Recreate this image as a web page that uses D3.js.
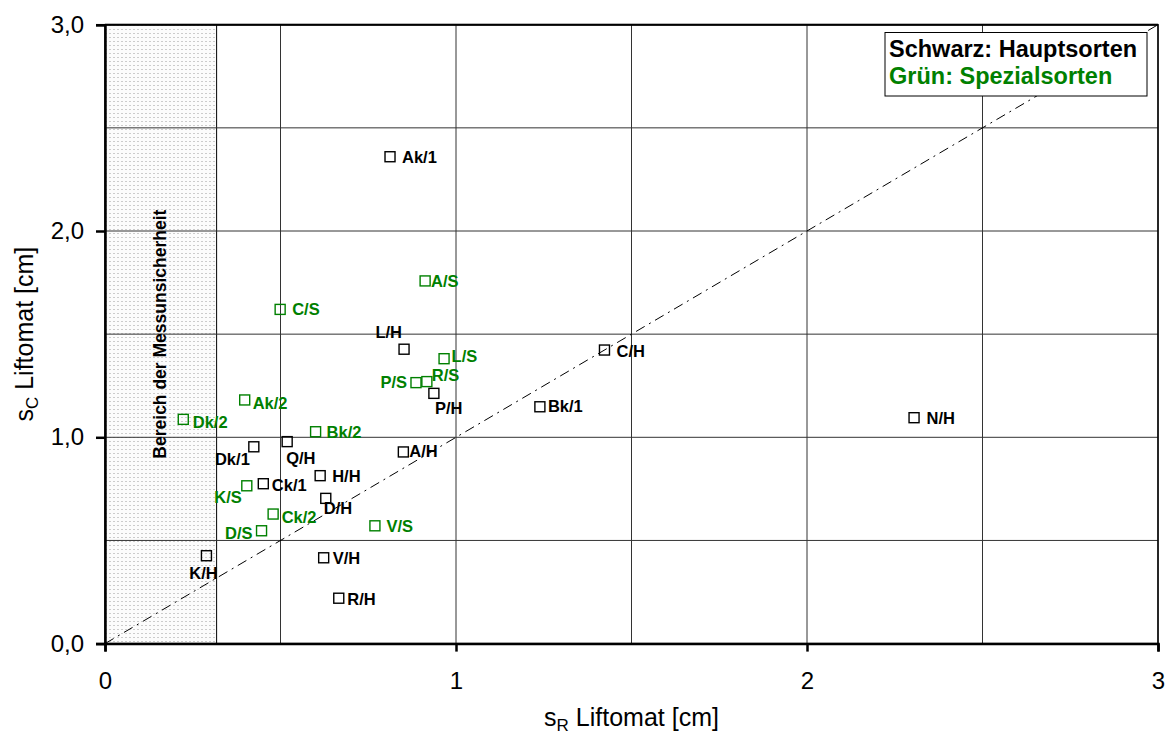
<!DOCTYPE html>
<html>
<head>
<meta charset="utf-8">
<script src="https://cdn.jsdelivr.net/npm/d3@7"></script>
<style>
  body { margin: 0; background: #fff; }
  svg { display: block; font-family: "Liberation Sans", Arial, sans-serif; }
</style>
</head>
<body>
<svg id="chart" width="1168" height="738"></svg>
<script>
// DATA
// Hauptsorten (schwarz)
var hauptNames = ['Ak/1', 'L/H', 'C/H', 'P/H', 'Bk/1', 'N/H', 'Dk/1', 'Q/H', 'A/H', 'H/H', 'Ck/1', 'D/H', 'K/H', 'V/H', 'R/H'];
var hauptX     = [0.812, 0.852, 1.423, 0.937, 1.239, 2.305, 0.424, 0.519, 0.850, 0.613, 0.451, 0.629, 0.289, 0.623, 0.666];
var hauptY     = [2.360, 1.427, 1.423, 1.213, 1.148, 1.095, 0.954, 0.979, 0.929, 0.814, 0.775, 0.704, 0.426, 0.416, 0.220];

// Spezialsorten (gruen)
var spezNames = ['A/S', 'C/S', 'L/S', 'P/S', 'R/S', 'Ak/2', 'Dk/2', 'Bk/2', 'K/S', 'Ck/2', 'D/S', 'V/S'];
var spezX     = [0.912, 0.499, 0.966, 0.886, 0.917, 0.398, 0.223, 0.600, 0.404, 0.479, 0.446, 0.769];
var spezY     = [1.758, 1.620, 1.381, 1.265, 1.270, 1.181, 1.087, 1.027, 0.765, 0.628, 0.547, 0.571];

// Bereich der Messunsicherheit (s_R)
var messGrenze = 0.318;

var xTicks = [0, 1, 2, 3];
var yTicks = [0, 1, 2, 3];
var gridSteps = [0.5, 1, 1.5, 2, 2.5, 3];

// Label placement [dx, dy, anchor]
var labelPos = {
    'Ak/1': [12, 6, 'start'],  'L/H': [-2, -11, 'end'],  'C/H': [12, 6.5, 'start'],
    'P/H': [1, 21, 'start'],   'Bk/1': [8, 5, 'start'],  'N/H': [12.5, 6, 'start'],
    'Dk/1': [-4, 18, 'end'],   'Q/H': [-1, 22.5, 'start'], 'A/H': [6, 5, 'start'],
    'H/H': [12, 6, 'start'],   'Ck/1': [8.5, 7, 'start'], 'D/H': [-2, 16, 'start'],
    'K/H': [-3, 23, 'middle'], 'V/H': [9, 6.5, 'start'], 'R/H': [8.5, 7, 'start'],
    'A/S': [6, 6, 'start'],    'C/S': [12, 6, 'start'],  'L/S': [7.5, 3.5, 'start'],
    'P/S': [-9, 5, 'end'],     'R/S': [5, -1, 'start'],  'Ak/2': [8, 9, 'start'],
    'Dk/2': [9.5, 9, 'start'], 'Bk/2': [11, 6, 'start'], 'K/S': [-5, 17, 'end'],
    'Ck/2': [8.5, 8.5, 'start'], 'D/S': [-9, 8.5, 'end'], 'V/S': [11.5, 6, 'start']
};

var GREEN = '#008000';

// LAYOUT
var plotLeft = 105, plotRight = 1158, plotTop = 24.7, plotBottom = 643.6;
var svg = d3.select('#chart');

var x = d3.scaleLinear().domain([0, 3]).range([plotLeft, plotRight]);
var y = d3.scaleLinear().domain([0, 3]).range([plotBottom, plotTop]);

// Dotted pattern for measurement region
var defs = svg.append('defs');
var pat = defs.append('pattern')
    .attr('id', 'dots')
    .attr('patternUnits', 'userSpaceOnUse')
    .attr('width', 4)
    .attr('height', 4);
pat.append('rect').attr('width', 4).attr('height', 4).attr('fill', '#fcfcfc');
pat.append('rect').attr('x', 1).attr('y', 1).attr('width', 2).attr('height', 1).attr('fill', '#cccccc');

// Measurement uncertainty region
svg.append('rect')
    .attr('x', x(0))
    .attr('y', y(3))
    .attr('width', x(messGrenze) - x(0))
    .attr('height', y(0) - y(3))
    .attr('fill', 'url(#dots)');
svg.append('line')
    .attr('x1', x(messGrenze)).attr('x2', x(messGrenze))
    .attr('y1', y(3)).attr('y2', y(0))
    .style('stroke', '#000')
    .style('stroke-width', '1px');

// Gridlines
svg.append('g').selectAll('line.vgrid')
    .data(gridSteps)
    .enter()
    .append('line')
    .attr('x1', function(d) { return x(d); })
    .attr('x2', function(d) { return x(d); })
    .attr('y1', y(0))
    .attr('y2', y(3))
    .style('stroke', '#333')
    .style('stroke-width', '1px');
svg.append('g').selectAll('line.hgrid')
    .data(gridSteps)
    .enter()
    .append('line')
    .attr('x1', x(0))
    .attr('x2', x(3))
    .attr('y1', function(d) { return y(d); })
    .attr('y2', function(d) { return y(d); })
    .style('stroke', '#333')
    .style('stroke-width', '1px');

// Frame
svg.append('rect')
    .attr('x', x(0)).attr('y', y(3))
    .attr('width', x(3) - x(0)).attr('height', y(0) - y(3))
    .attr('fill', 'none')
    .style('stroke', '#000')
    .style('stroke-width', '1.5px');
svg.append('line')
    .attr('x1', x(0)).attr('x2', x(3))
    .attr('y1', y(3)).attr('y2', y(3))
    .style('stroke', '#000').style('stroke-width', '2px');

// 1:1 line
svg.append('line')
    .attr('x1', x(0)).attr('y1', y(0))
    .attr('x2', x(3)).attr('y2', y(3))
    .style('stroke', '#000')
    .style('stroke-width', '1px')
    .style('stroke-dasharray', '10,5,2,5');

// Axes
var xAxis = svg.append('g')
    .attr('transform', 'translate(0,' + y(0) + ')')
    .call(d3.axisBottom(x).tickValues(xTicks).tickSize(8).tickPadding(20)
        .tickFormat(d3.format('d')));
var yAxis = svg.append('g')
    .attr('transform', 'translate(' + x(0) + ',0)')
    .call(d3.axisLeft(y).tickValues(yTicks).tickSize(9).tickPadding(12)
        .tickFormat(function(d) { return d.toFixed(1).replace('.', ','); }));

[xAxis, yAxis].forEach(function(a) {
    a.select('.domain').style('stroke', '#000').style('stroke-width', '2.5px');
    a.selectAll('.tick line').style('stroke', '#000').style('stroke-width', '2.5px');
    a.selectAll('.tick text')
        .style('font-family', '"Liberation Sans", Arial, sans-serif')
        .style('font-size', '24px')
        .style('fill', '#000');
});

// Axis titles
var xTitle = svg.append('text')
    .attr('x', (x(0) + x(3)) / 2)
    .attr('y', 726)
    .attr('text-anchor', 'middle')
    .style('font-size', '25px');
xTitle.append('tspan').text('s');
xTitle.append('tspan').attr('dy', 5).style('font-size', '17px').text('R');
xTitle.append('tspan').attr('dy', -5).text(' Liftomat [cm]');

var yTitle = svg.append('text')
    .attr('transform', 'translate(33,' + ((y(0) + y(3)) / 2) + ') rotate(-90)')
    .attr('text-anchor', 'middle')
    .style('font-size', '25px');
yTitle.append('tspan').text('s');
yTitle.append('tspan').attr('dy', 5).style('font-size', '17px').text('C');
yTitle.append('tspan').attr('dy', -5).text(' Liftomat [cm]');

// Region label
svg.append('text')
    .attr('transform', 'translate(166,' + ((y(0) + y(3)) / 2) + ') rotate(-90)')
    .attr('text-anchor', 'middle')
    .style('font-size', '17.5px')
    .style('font-weight', 'bold')
    .text('Bereich der Messunsicherheit');

// Points
function drawSeries(names, xs, ys, color) {
    var pts = names.map(function(n, i) { return { name: n, x: xs[i], y: ys[i] }; });
    var g = svg.append('g');
    g.selectAll('rect')
        .data(pts)
        .enter()
        .append('rect')
        .attr('x', function(d) { return x(d.x) - 5; })
        .attr('y', function(d) { return y(d.y) - 5; })
        .attr('width', 10)
        .attr('height', 10)
        .attr('fill', 'none')
        .style('stroke', color)
        .style('stroke-width', '1.4px');
    g.selectAll('text')
        .data(pts)
        .enter()
        .append('text')
        .attr('x', function(d) { return x(d.x) + labelPos[d.name][0]; })
        .attr('y', function(d) { return y(d.y) + labelPos[d.name][1]; })
        .attr('text-anchor', function(d) { return labelPos[d.name][2]; })
        .style('font-size', '16.5px')
        .style('font-weight', 'bold')
        .style('fill', color)
        .text(function(d) { return d.name; });
}
drawSeries(hauptNames, hauptX, hauptY, '#000');
drawSeries(spezNames, spezX, spezY, GREEN);

// Legend
var lg = svg.append('g');
lg.append('rect')
    .attr('x', 885).attr('y', 32.5)
    .attr('width', 262).attr('height', 63.5)
    .attr('fill', '#fff')
    .style('stroke', '#000')
    .style('stroke-width', '1px');
lg.append('text')
    .attr('x', 889).attr('y', 57)
    .style('font-size', '23.5px').style('font-weight', 'bold')
    .style('fill', '#000')
    .text('Schwarz: Hauptsorten');
lg.append('text')
    .attr('x', 889).attr('y', 84)
    .style('font-size', '23.5px').style('font-weight', 'bold')
    .style('fill', GREEN)
    .text('Grün: Spezialsorten');
</script>
</body>
</html>
